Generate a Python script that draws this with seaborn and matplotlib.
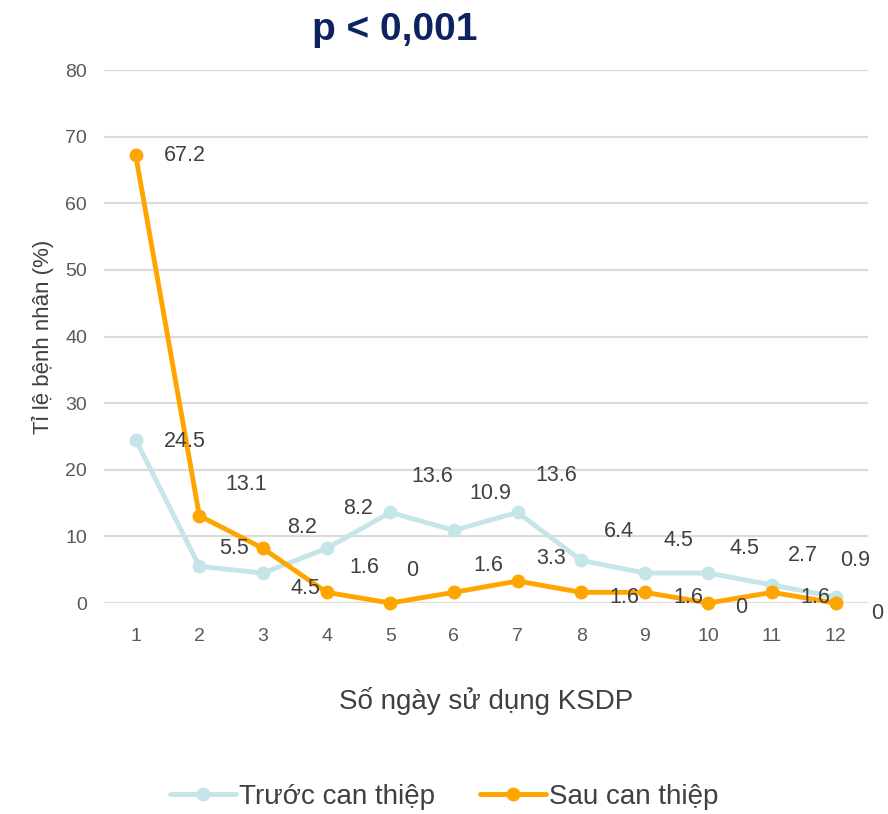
import matplotlib
matplotlib.use("Agg")
import matplotlib.pyplot as plt
import pandas as pd
import seaborn as sns

days = list(range(1, 13))
truoc = [24.5, 5.5, 4.5, 8.2, 13.6, 10.9, 13.6, 6.4, 4.5, 4.5, 2.7, 0.9]
sau = [67.2, 13.1, 8.2, 1.6, 0, 1.6, 3.3, 1.6, 1.6, 0, 1.6, 0]
series_names = ["Trước can thiệp", "Sau can thiệp"]
y_ticks = [0, 10, 20, 30, 40, 50, 60, 70, 80]

# label offsets (pixels) relative to each point, as placed in the original
truoc_offsets = [(49, -2), (35, 18), (42, -15), (31, 40), (42, 36), (36, 37),
                 (39, 37), (38, 29), (34, 33), (36, 25), (31, 30), (19, 37)]
sau_offsets = [(49, 0), (47, 31), (39, 21), (38, 25), (22, 33), (34, 27),
               (34, 23), (43, -5), (43, -5), (33, -4), (43, -5), (41, -10)]

df = pd.DataFrame({
    "day": days * 2,
    "pct": truoc + sau,
    "group": [series_names[0]] * len(days) + [series_names[1]] * len(days),
})

sns.set_style("white")
plt.rcParams["font.family"] = ["Liberation Sans", "DejaVu Sans"]

colors = {series_names[0]: "#c6e5e8", series_names[1]: "#ffa500"}
text_col = "#404040"
tick_col = "#595959"

fig = plt.figure(figsize=(8.88, 8.14), dpi=100)
ax = fig.add_axes([0.117, 0.2592, 0.860, 0.6548])

sns.lineplot(data=df, x="day", y="pct", hue="group", hue_order=series_names,
             palette=colors, marker="o", markersize=10, markeredgewidth=0,
             linewidth=3.5, clip_on=False, ax=ax, zorder=3)

for vals, offs in [(truoc, truoc_offsets), (sau, sau_offsets)]:
    for d, v, (dx, dy) in zip(days, vals, offs):
        ax.annotate(f"{v:g}", (d, v), xytext=(dx, dy), textcoords="offset pixels",
                    ha="center", va="center", fontsize=15.5, color=text_col,
                    annotation_clip=False, zorder=4)

ax.set_xlim(0.5, 12.5)
ax.set_ylim(0, 80)
ax.set_xticks(days)
ax.set_yticks(y_ticks)
ax.yaxis.grid(True, color="#dcdcdc", linewidth=1.6)
ax.set_axisbelow(True)
sns.despine(ax=ax, left=True, bottom=True)
ax.tick_params(axis="both", length=0, labelsize=14, labelcolor=tick_col)
ax.tick_params(axis="x", pad=18)
ax.tick_params(axis="y", pad=12)

ax.set_xlabel("Số ngày sử dụng KSDP", fontsize=20, color=text_col, labelpad=30)
ax.set_ylabel("Tỉ lệ bệnh nhân (%)", fontsize=16, color=text_col, labelpad=8)

fig.text(0.445, 0.963, "p < 0,001", ha="center", va="center", fontsize=28,
         fontweight="bold", color="#0d2260")

handles, labels = ax.get_legend_handles_labels()
ax.legend(handles, labels, loc="center", bbox_to_anchor=(0.5, 0.021),
          bbox_transform=fig.transFigure, ncol=2, frameon=False,
          fontsize=20, labelcolor=text_col, handlelength=2.4,
          handletextpad=0.1, columnspacing=1.6)

fig.savefig("out.png", dpi=100)
